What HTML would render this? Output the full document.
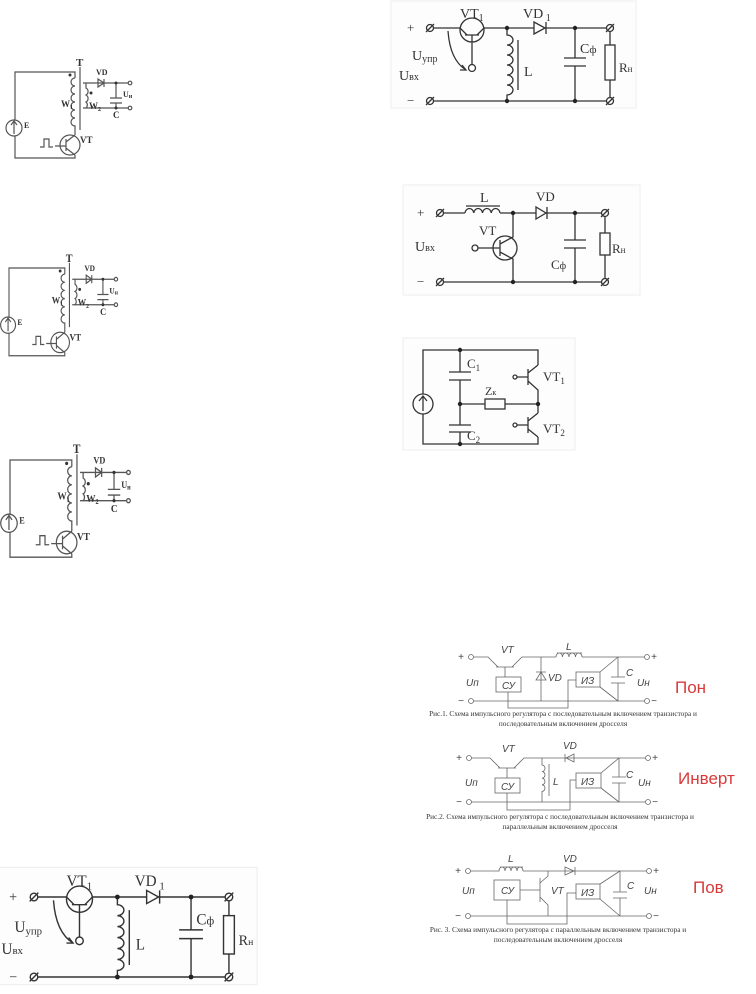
<!DOCTYPE html>
<html><head><meta charset="utf-8"><style>
html,body{margin:0;padding:0;background:#fff;}
svg{display:block;}
.s{font-family:"Liberation Serif",serif;fill:#333;}
.i{font-family:"Liberation Sans",sans-serif;font-style:italic;fill:#444;font-size:10px;}
.r{font-family:"Liberation Sans",sans-serif;fill:#d83a3a;font-size:17px;}
.cap{font-family:"Liberation Serif",serif;fill:#333;font-size:7.3px;}
</style></head><body>
<svg width="756" height="994" viewBox="0 0 756 994" xmlns="http://www.w3.org/2000/svg">
<defs>
<g id="tr" fill="none" stroke="#555" stroke-width="1.2">
 <path d="M75,78 V72 H15 V120 M15,136 V158 H75 V155"/>
 <circle cx="14" cy="128" r="8"/>
 <path d="M14,134 V122 M11,125 L14,121 L17,125"/>
 <path d="M75,78 a4,4 0 0 0 0,8 a4,4 0 0 0 0,8 a4,4 0 0 0 0,8 a4,4 0 0 0 0,8 a4,4 0 0 0 0,8 a4,4 0 0 0 0,8 V135"/>
 <path d="M80,67 V130"/>
 <circle cx="70" cy="145" r="10"/>
 <path d="M66,139 V151 M66,142 L75,135 M66,148 L75,155"/>
 <path d="M40,147 H44 V139 H49 V147 H53 M55,146 H66"/>
 <path d="M83,83 H128 M86,83 V88 a4,4 0 0 1 0,7 a4,4 0 0 1 0,7 a4,4 0 0 1 0,6 V108 H128 M83,108 H86"/>
 <path d="M116,83 V98 M110,98 H122 M110,103 H122 M116,103 V108"/>
 <path d="M98,79 V87 L104,83 Z M104,79 V87"/>
 <circle cx="130" cy="83" r="1.8"/><circle cx="130" cy="108" r="1.8"/>
</g>
</defs>

<!-- transformer copies -->
<g>
 <use href="#tr"/>
 <g fill="#333"><circle cx="70" cy="75" r="1.5"/><circle cx="91" cy="93" r="1.5"/><circle cx="116" cy="83" r="1.5"/><circle cx="116" cy="108" r="1.5"/></g>
 <text class="s" x="76" y="66" font-size="11" font-weight="bold">T</text>
 <text class="s" x="96" y="75" font-size="8" font-weight="bold">VD</text>
 <text class="s" x="61" y="107" font-size="9" font-weight="bold">W<tspan font-size="6" dy="2">1</tspan></text>
 <text class="s" x="89" y="109" font-size="9" font-weight="bold">W<tspan font-size="6" dy="2">2</tspan></text>
 <text class="s" x="113" y="118" font-size="9" font-weight="bold">C</text>
 <text class="s" x="123" y="97" font-size="8" font-weight="bold">U<tspan font-size="6" dy="1">н</tspan></text>
 <text class="s" x="24" y="128" font-size="8" font-weight="bold">E</text>
 <text class="s" x="80" y="143" font-size="9" font-weight="bold">VT</text>
</g>
<g transform="translate(9,268) scale(0.93,1.02) translate(-15,-72)">
 <use href="#tr"/>
 <g fill="#333"><circle cx="70" cy="75" r="1.5"/><circle cx="91" cy="93" r="1.5"/><circle cx="116" cy="83" r="1.5"/><circle cx="116" cy="108" r="1.5"/></g>
 <text class="s" x="76" y="66" font-size="11" font-weight="bold">T</text>
 <text class="s" x="96" y="75" font-size="8" font-weight="bold">VD</text>
 <text class="s" x="61" y="107" font-size="9" font-weight="bold">W<tspan font-size="6" dy="2">1</tspan></text>
 <text class="s" x="89" y="109" font-size="9" font-weight="bold">W<tspan font-size="6" dy="2">2</tspan></text>
 <text class="s" x="113" y="118" font-size="9" font-weight="bold">C</text>
 <text class="s" x="123" y="97" font-size="8" font-weight="bold">U<tspan font-size="6" dy="1">н</tspan></text>
 <text class="s" x="24" y="128" font-size="8" font-weight="bold">E</text>
 <text class="s" x="80" y="143" font-size="9" font-weight="bold">VT</text>
</g>
<g transform="translate(10,460) scale(1.03,1.13) translate(-15,-72)">
 <use href="#tr"/>
 <g fill="#333"><circle cx="70" cy="75" r="1.5"/><circle cx="91" cy="93" r="1.5"/><circle cx="116" cy="83" r="1.5"/><circle cx="116" cy="108" r="1.5"/></g>
 <text class="s" x="76" y="66" font-size="11" font-weight="bold">T</text>
 <text class="s" x="96" y="75" font-size="8" font-weight="bold">VD</text>
 <text class="s" x="61" y="107" font-size="9" font-weight="bold">W<tspan font-size="6" dy="2">1</tspan></text>
 <text class="s" x="89" y="109" font-size="9" font-weight="bold">W<tspan font-size="6" dy="2">2</tspan></text>
 <text class="s" x="113" y="118" font-size="9" font-weight="bold">C</text>
 <text class="s" x="123" y="97" font-size="8" font-weight="bold">U<tspan font-size="6" dy="1">н</tspan></text>
 <text class="s" x="24" y="128" font-size="8" font-weight="bold">E</text>
 <text class="s" x="80" y="143" font-size="9" font-weight="bold">VT</text>
</g>

<!-- right top buck-boost -->
<g id="bb">
 <rect x="391" y="1" width="245" height="107" fill="#fdfdfd" stroke="#eee"/>
 <g fill="none" stroke="#333" stroke-width="1.3">
  <path d="M433,28 H460 M484,28 H534 M545,28 H607 M433,101 H607"/>
  <circle cx="430" cy="28" r="3.5"/><circle cx="430" cy="101" r="3.5"/>
  <circle cx="610" cy="28" r="3.5"/><circle cx="610" cy="101" r="3.5"/>
  <path d="M426,32 L434,24 M426,105 L434,97 M606,32 L614,24 M606,105 L614,97"/>
  <circle cx="472" cy="30" r="12"/>
  <path d="M465,35 H479 M460,28 L467,35 M477,35 L484,28 M472,35 V65"/>
  <circle cx="472" cy="68" r="3.5"/>
  <path d="M448,31 Q450,60 466,70"/><path d="M460,70 L466,70 L462,65" />
  <path d="M507,28 V35 a6,5 0 0 1 0,10 a6,5 0 0 1 0,10 a6,5 0 0 1 0,10 a6,5 0 0 1 0,10 a6,5 0 0 1 0,10 a6,5 0 0 1 0,10 V101 M518,40 V90"/>
  <path d="M534,22 V34 L545,28 Z M546,22 V34"/>
  <path d="M575,28 V58 M564,58 H586 M564,66 H586 M575,66 V101"/>
  <path d="M610,32 V45 M610,80 V97"/><rect x="605" y="45" width="10" height="35"/>
 </g>
 <g fill="#222"><circle cx="507" cy="28" r="2.2"/><circle cx="507" cy="101" r="2.2"/><circle cx="575" cy="28" r="2.2"/><circle cx="575" cy="101" r="2.2"/></g>
 <text class="s" x="407" y="32" font-size="13">+</text>
 <text class="s" x="407" y="105" font-size="13">−</text>
 <text class="s" x="460" y="18" font-size="14">VT<tspan font-size="10" dy="3">1</tspan></text>
 <text class="s" x="523" y="18" font-size="14">VD<tspan font-size="10" dy="3"> 1</tspan></text>
 <text class="s" x="412" y="60" font-size="14">U<tspan font-size="10" dy="2">упр</tspan></text>
 <text class="s" x="399" y="80" font-size="14">U<tspan font-size="10">вх</tspan></text>
 <text class="s" x="524" y="76" font-size="14">L</text>
 <text class="s" x="580" y="53" font-size="14">C<tspan font-size="11">ф</tspan></text>
 <text class="s" x="619" y="72" font-size="13">R<tspan font-size="9">н</tspan></text>
</g>

<!-- bottom-left copy -->
<g transform="translate(34,897) scale(1.083,1.096) translate(-430,-28)">
 <rect x="391" y="1" width="245" height="107" fill="#fdfdfd" stroke="#eee"/>
 <g fill="none" stroke="#333" stroke-width="1.3">
  <path d="M433,28 H460 M484,28 H534 M545,28 H607 M433,101 H607"/>
  <circle cx="430" cy="28" r="3.5"/><circle cx="430" cy="101" r="3.5"/>
  <circle cx="610" cy="28" r="3.5"/><circle cx="610" cy="101" r="3.5"/>
  <path d="M426,32 L434,24 M426,105 L434,97 M606,32 L614,24 M606,105 L614,97"/>
  <circle cx="472" cy="30" r="12"/>
  <path d="M465,35 H479 M460,28 L467,35 M477,35 L484,28 M472,35 V65"/>
  <circle cx="472" cy="68" r="3.5"/>
  <path d="M448,31 Q450,60 466,70"/><path d="M460,70 L466,70 L462,65" />
  <path d="M507,28 V35 a6,5 0 0 1 0,10 a6,5 0 0 1 0,10 a6,5 0 0 1 0,10 a6,5 0 0 1 0,10 a6,5 0 0 1 0,10 a6,5 0 0 1 0,10 V101 M518,40 V90"/>
  <path d="M534,22 V34 L545,28 Z M546,22 V34"/>
  <path d="M575,28 V58 M564,58 H586 M564,66 H586 M575,66 V101"/>
  <path d="M610,32 V45 M610,80 V97"/><rect x="605" y="45" width="10" height="35"/>
 </g>
 <g fill="#222"><circle cx="507" cy="28" r="2.2"/><circle cx="507" cy="101" r="2.2"/><circle cx="575" cy="28" r="2.2"/><circle cx="575" cy="101" r="2.2"/></g>
 <text class="s" x="407" y="32" font-size="13">+</text>
 <text class="s" x="407" y="105" font-size="13">−</text>
 <text class="s" x="460" y="18" font-size="14">VT<tspan font-size="10" dy="3">1</tspan></text>
 <text class="s" x="523" y="18" font-size="14">VD<tspan font-size="10" dy="3"> 1</tspan></text>
 <text class="s" x="412" y="60" font-size="14">U<tspan font-size="10" dy="2">упр</tspan></text>
 <text class="s" x="400" y="80" font-size="14">U<tspan font-size="10">вх</tspan></text>
 <text class="s" x="524" y="76" font-size="14">L</text>
 <text class="s" x="580" y="53" font-size="14">C<tspan font-size="11">ф</tspan></text>
 <text class="s" x="619" y="72" font-size="13">R<tspan font-size="9">н</tspan></text>
</g>

<!-- boost -->
<rect x="403" y="185" width="237" height="110" fill="#fdfdfd" stroke="#eee"/>
<g fill="none" stroke="#333" stroke-width="1.3">
 <path d="M443,213 H465 M465,213 a4.4,5 0 0 1 8.75,0 a4.4,5 0 0 1 8.75,0 a4.4,5 0 0 1 8.75,0 a4.4,5 0 0 1 8.75,0 M500,213 H536 M546,213 H602 M443,282 H602 M466,206 H500"/>
 <circle cx="440" cy="213" r="3.5"/><circle cx="440" cy="282" r="3.5"/>
 <circle cx="605" cy="213" r="3.5"/><circle cx="605" cy="282" r="3.5"/>
 <path d="M436,217 L444,209 M436,286 L444,278 M601,217 L609,209 M601,286 L609,278"/>
 <circle cx="505" cy="248" r="12"/>
 <path d="M500,240 V256 M478,248 H500 M500,244 L513,237 V213 M500,252 L513,259 V282"/>
 <circle cx="475" cy="248" r="3"/>
 <path d="M536,207 V219 L546,213 Z M547,207 V219"/>
 <path d="M575,213 V240 M564,240 H586 M564,248 H586 M575,248 V282"/>
 <path d="M605,217 V233 M605,255 V278"/><rect x="600" y="233" width="10" height="22"/>
</g>
<g fill="#222"><circle cx="513" cy="213" r="2.2"/><circle cx="513" cy="282" r="2.2"/><circle cx="575" cy="213" r="2.2"/><circle cx="575" cy="282" r="2.2"/></g>
<text class="s" x="417" y="217" font-size="13">+</text>
<text class="s" x="417" y="286" font-size="13">−</text>
<text class="s" x="480" y="202" font-size="14">L</text>
<text class="s" x="536" y="201" font-size="13">VD</text>
<text class="s" x="479" y="235" font-size="13">VT</text>
<text class="s" x="415" y="251" font-size="14">U<tspan font-size="10">вх</tspan></text>
<text class="s" x="551" y="269" font-size="13">C<tspan font-size="10">ф</tspan></text>
<text class="s" x="612" y="253" font-size="13">R<tspan font-size="9">н</tspan></text>

<!-- half-bridge -->
<rect x="403" y="338" width="172" height="112" fill="#fdfdfd" stroke="#eee"/>
<g fill="none" stroke="#333" stroke-width="1.3">
 <path d="M423,394 V350 H538 V365 M423,414 V444 H538 V437"/>
 <circle cx="423" cy="404" r="10"/>
 <path d="M423,411 V397 M419,401 L423,396 L427,401"/>
 <path d="M460,350 V372 M449,372 H471 M449,380 H471 M460,380 V425 M449,425 H471 M449,432 H471 M460,432 V444"/>
 <path d="M460,404 H485 M505,404 H538"/><rect x="485" y="399" width="20" height="10"/>
 <path d="M528,369 V385 M517,377 H528 M528,373 L538,365 M528,381 L538,390 V413 M528,417 V433 M517,425 H528 M528,421 L538,413 M528,429 L538,437"/>
 <circle cx="515" cy="377" r="2"/><circle cx="515" cy="425" r="2"/>
</g>
<g fill="#222"><circle cx="460" cy="350" r="2.2"/><circle cx="460" cy="404" r="2.2"/><circle cx="460" cy="444" r="2.2"/><circle cx="538" cy="404" r="2.2"/></g>
<text class="s" x="467" y="368" font-size="13">C<tspan font-size="9" dy="3">1</tspan></text>
<text class="s" x="485" y="395" font-size="12">Z<tspan font-size="8">к</tspan></text>
<text class="s" x="543" y="381" font-size="13">VT<tspan font-size="9" dy="3">1</tspan></text>
<text class="s" x="543" y="433" font-size="13">VT<tspan font-size="9" dy="3">2</tspan></text>
<text class="s" x="467" y="440" font-size="13">C<tspan font-size="9" dy="3">2</tspan></text>

<!-- block diagram 1 -->
<g fill="none" stroke="#666" stroke-width="0.8">
 <circle cx="471" cy="657" r="2.5"/><circle cx="471" cy="701" r="2.5"/><circle cx="647" cy="657" r="2.5"/><circle cx="647" cy="701" r="2.5"/>
 <path d="M474,657 H488 L498,667 M496,667 H514 M512,667 L522,657 H556 M556,657 a3.25,4 0 0 1 6.5,0 a3.25,4 0 0 1 6.5,0 a3.25,4 0 0 1 6.5,0 a3.25,4 0 0 1 6.5,0 M557,653 H582 M582,657 H644 M474,701 H644"/>
 <path d="M505,667 V677"/><rect x="496" y="677" width="25" height="15"/>
 <path d="M541,657 V701 M536,680 H546 L541,672 Z M536,672 H546"/>
 <rect x="576" y="672" width="24" height="15"/>
 <path d="M600,672 L618,657 M600,687 L618,701 M618,657 V677 M611,677 H625 M611,683 H625 M618,683 V701"/>
 <path d="M508,692 V708 H568 V680 H576"/>
</g>
<text class="i" x="458" y="660" font-size="7" font-style="normal">+</text>
<text class="i" x="458" y="704" font-size="7" font-style="normal">−</text>
<text class="i" x="651" y="660" font-size="7" font-style="normal">+</text>
<text class="i" x="651" y="704" font-size="7" font-style="normal">−</text>
<text class="i" x="501" y="653">VT</text>
<text class="i" x="566" y="650">L</text>
<text class="i" x="548" y="681">VD</text>
<text class="i" x="502" y="689">СУ</text>
<text class="i" x="581" y="684">ИЗ</text>
<text class="i" x="626" y="676">C</text>
<text class="i" x="466" y="686">Uп</text>
<text class="i" x="637" y="686">Uн</text>
<text class="r" x="675" y="693">Пон</text>
<text class="cap" x="563" y="716" text-anchor="middle">Рис.1. Схема импульсного регулятора с последовательным включением транзистора и</text>
<text class="cap" x="563" y="726" text-anchor="middle">последовательным включением дросселя</text>

<!-- block diagram 2 -->
<g fill="none" stroke="#666" stroke-width="0.8">
 <circle cx="469" cy="758" r="2.5"/><circle cx="469" cy="802" r="2.5"/><circle cx="648" cy="758" r="2.5"/><circle cx="648" cy="802" r="2.5"/>
 <path d="M472,758 H490 L500,768 M498,768 H516 M514,768 L524,758 H645 M472,802 H645"/>
 <path d="M507,768 V778"/><rect x="495" y="778" width="25" height="15"/>
 <path d="M542,758 V765 a3,3.3 0 0 1 0,6.6 a3,3.3 0 0 1 0,6.6 a3,3.3 0 0 1 0,6.6 a3,3.3 0 0 1 0,6.6 V802 M549,764 V796"/>
 <path d="M574,754 V762 L566,758 Z M565,754 V762"/>
 <rect x="576" y="773" width="25" height="15"/>
 <path d="M601,773 L619,758 M601,788 L619,802 M619,758 V777 M612,777 H626 M612,783 H626 M619,783 V802"/>
 <path d="M507,793 V810 H570 V780 H576"/>
</g>
<text class="i" x="456" y="761" font-size="7" font-style="normal">+</text>
<text class="i" x="456" y="805" font-size="7" font-style="normal">−</text>
<text class="i" x="652" y="761" font-size="7" font-style="normal">+</text>
<text class="i" x="652" y="805" font-size="7" font-style="normal">−</text>
<text class="i" x="502" y="752">VT</text>
<text class="i" x="563" y="749">VD</text>
<text class="i" x="553" y="785">L</text>
<text class="i" x="501" y="790">СУ</text>
<text class="i" x="581" y="785">ИЗ</text>
<text class="i" x="626" y="778">C</text>
<text class="i" x="465" y="786">Uп</text>
<text class="i" x="638" y="786">Uн</text>
<text class="r" x="678" y="784">Инверт</text>
<text class="cap" x="560" y="819" text-anchor="middle">Рис.2. Схема импульсного регулятора с последовательным включением транзистора и</text>
<text class="cap" x="560" y="829" text-anchor="middle">параллельным включением дросселя</text>

<!-- block diagram 3 -->
<g fill="none" stroke="#666" stroke-width="0.8">
 <circle cx="468" cy="871" r="2.5"/><circle cx="468" cy="916" r="2.5"/><circle cx="649" cy="871" r="2.5"/><circle cx="649" cy="916" r="2.5"/>
 <path d="M471,871 H499 a3,4 0 0 1 6,0 a3,4 0 0 1 6,0 a3,4 0 0 1 6,0 a3,4 0 0 1 6,0 M500,867 H523 M523,871 H646 M471,916 H646"/>
 <path d="M548,871 V876 L540,883 M540,878 V902 M540,897 L548,905 V916 M520,890 H540"/>
 <rect x="494" y="880" width="26" height="20"/>
 <path d="M565,867 V875 L574,871 Z M575,867 V875"/>
 <rect x="576" y="884" width="24" height="15"/>
 <path d="M600,884 L620,871 M600,899 L620,916 M620,871 V892 M613,892 H627 M613,898 H627 M620,898 V916"/>
 <path d="M507,900 V924 H567 V893 H576"/>
</g>
<text class="i" x="455" y="874" font-size="7" font-style="normal">+</text>
<text class="i" x="455" y="919" font-size="7" font-style="normal">−</text>
<text class="i" x="653" y="874" font-size="7" font-style="normal">+</text>
<text class="i" x="653" y="919" font-size="7" font-style="normal">−</text>
<text class="i" x="508" y="862">L</text>
<text class="i" x="563" y="862">VD</text>
<text class="i" x="551" y="894">VT</text>
<text class="i" x="501" y="894">СУ</text>
<text class="i" x="581" y="896">ИЗ</text>
<text class="i" x="627" y="889">C</text>
<text class="i" x="462" y="894">Uп</text>
<text class="i" x="644" y="894">Uн</text>
<text class="r" x="693" y="893">Пов</text>
<text class="cap" x="558" y="932" text-anchor="middle">Рис. 3. Схема импульсного регулятора с параллельным включением транзистора и</text>
<text class="cap" x="558" y="942" text-anchor="middle">последовательным включением дросселя</text>
</svg>
</body></html>
